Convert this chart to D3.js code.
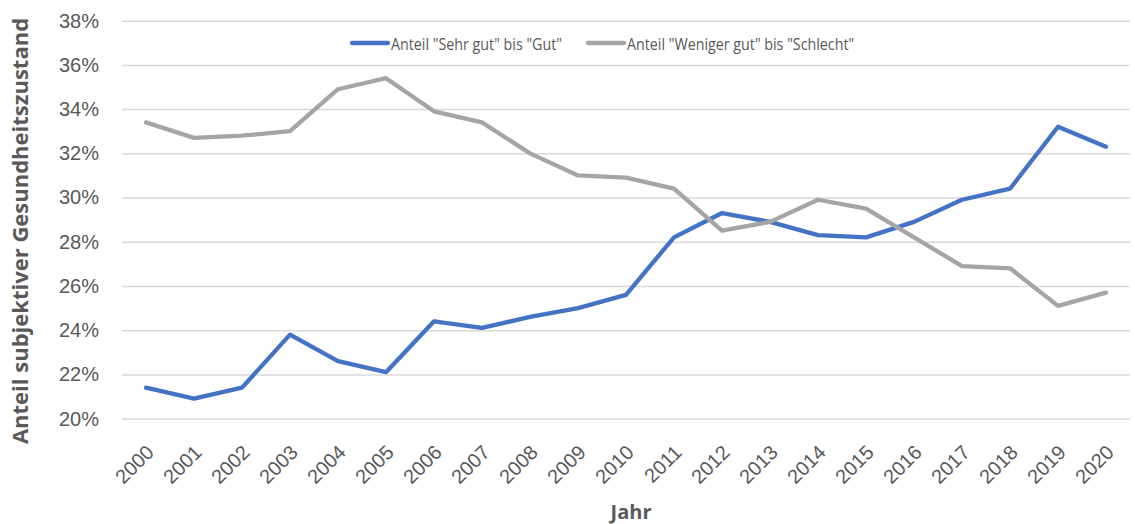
<!DOCTYPE html>
<html lang="de">
<head>
  <meta charset="UTF-8">
  <title>Subjektiver Gesundheitszustand</title>
  <script src="https://d3js.org/d3.v7.min.js"></script>
  <style>
    body { margin: 0; background: #fff; }
    svg { display: block; font-family: "Open Sans", sans-serif; }
    .tick text { fill: #595959; }
  </style>
</head>
<body>
  <svg width="1135" height="524"></svg>
  <script>
    const years = d3.range(2000, 2021).map(String);
    const gut = [21.4, 20.9, 21.4, 23.8, 22.6, 22.1, 24.4, 24.1, 24.6, 25.0, 25.6,
                 28.2, 29.3, 28.9, 28.3, 28.2, 28.9, 29.9, 30.4, 33.2, 32.3];
    const schlecht = [33.4, 32.7, 32.8, 33.0, 34.9, 35.4, 33.9, 33.4, 32.0, 31.0, 30.9,
                      30.4, 28.5, 28.9, 29.9, 29.5, 28.2, 26.9, 26.8, 25.1, 25.7];
    const yTicks = [20, 22, 24, 26, 28, 30, 32, 34, 36, 38];
    const seriesNames = ['Anteil "Sehr gut" bis "Gut"', 'Anteil "Weniger gut" bis "Schlecht"'];
    const colors = ["#4472C4", "#A5A5A5"];

    const svg = d3.select("svg");
    const plotL = 122, plotR = 1130, plotT = 20.7, plotB = 418.6;

    const x = d3.scaleBand().domain(years).range([plotL, plotR]).padding(0);
    const y = d3.scaleLinear().domain([20, 38]).range([plotB, plotT]);
    const cx = d => x(d) + x.bandwidth() / 2;

    // gridlines + y labels
    const yAxis = svg.append("g")
      .attr("transform", `translate(${plotL},0)`)
      .call(d3.axisLeft(y).tickValues(yTicks).tickSize(-(plotR - plotL))
        .tickPadding(23).tickFormat(d => d + "%"));
    yAxis.select(".domain").remove();
    yAxis.selectAll(".tick line").attr("stroke", "#d9d9d9").attr("stroke-width", 1.5);
    yAxis.selectAll(".tick text").attr("font-size", 20);

    // x labels
    const xAxis = svg.append("g")
      .attr("transform", `translate(0,${plotB})`)
      .call(d3.axisBottom(x).tickSize(0).tickPadding(0));
    xAxis.select(".domain").remove();
    xAxis.selectAll(".tick text")
      .attr("font-size", 20)
      .attr("text-anchor", "end")
      .attr("dy", null)
      .attr("transform", "translate(9,35) rotate(-45)");

    // lines
    const line = d3.line().x((d, i) => cx(years[i])).y(d => y(d));
    [gut, schlecht].forEach((s, k) => {
      svg.append("path")
        .datum(s)
        .attr("fill", "none")
        .attr("stroke", colors[k])
        .attr("stroke-width", 4.3)
        .attr("stroke-linejoin", "round")
        .attr("stroke-linecap", "round")
        .attr("d", line);
    });

    // legend (text narrowed to look like the condensed original)
    const legendX = [352, 588];
    seriesNames.forEach((name, k) => {
      const g = svg.append("g").attr("transform", `translate(${legendX[k]},43)`);
      g.append("line")
        .attr("x1", 0).attr("x2", 36)
        .attr("stroke", colors[k]).attr("stroke-width", 4.3).attr("stroke-linecap", "round");
      g.append("text")
        .attr("transform", "translate(39,6.5) scale(0.84,1)")
        .attr("font-size", 17)
        .attr("fill", "#595959")
        .text(name);
    });

    // axis titles
    svg.append("text")
      .attr("transform", "translate(28,231) rotate(-90)")
      .attr("text-anchor", "middle")
      .attr("font-size", 22)
      .attr("font-weight", "bold")
      .attr("fill", "#595959")
      .text("Anteil subjektiver Gesundheitszustand");

    svg.append("text")
      .attr("x", 631).attr("y", 519)
      .attr("text-anchor", "middle")
      .attr("font-size", 20)
      .attr("font-weight", "bold")
      .attr("fill", "#595959")
      .text("Jahr");
  </script>
</body>
</html>
